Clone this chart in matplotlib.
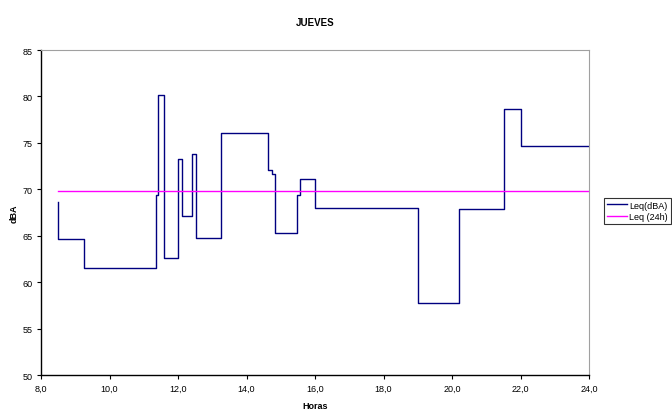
import matplotlib
matplotlib.use('Agg')
import matplotlib.pyplot as plt

plt.rcParams['font.family'] = ['Liberation Sans', 'DejaVu Sans']

# hourly Leq readings (step changes), hour of day -> dBA
horas = [8.51, 9.27, 11.35, 11.43, 11.60, 12.01, 12.12, 12.41, 12.54, 13.26,
         14.62, 14.75, 14.84, 15.48, 15.56, 16.01, 19.00, 20.20, 21.52, 22.00, 24.00]
leq = [64.6, 61.5, 69.4, 80.2, 62.6, 73.3, 67.1, 73.8, 64.8, 76.1,
       72.1, 71.6, 65.3, 69.4, 71.1, 68.0, 57.8, 67.85, 78.7, 74.7, 74.7]
inicio = 68.6      # first reading before the first step
leq_24h = 69.8
xticks = [8, 10, 12, 14, 16, 18, 20, 22, 24]
yticks = [50, 55, 60, 65, 70, 75, 80, 85]

fig = plt.figure(figsize=(6.72, 4.10), dpi=100)
ax = fig.add_axes([41/672, 1 - 376/410, (589 - 41)/672, (376 - 51)/410])

ax.plot([horas[0]] + horas, [inicio] + leq, drawstyle='steps-post',
        color='#000080', lw=1.0, label='Leq(dBA)')
ax.plot([horas[0], horas[-1]], [leq_24h, leq_24h], color='#FF00FF', lw=1.0,
        label='Leq (24h)')

ax.set_xlim(8, 24)
ax.set_ylim(50, 85)
ax.set_xticks(xticks)
ax.set_xticklabels([('%.1f' % t).replace('.', ',') for t in xticks])
ax.set_yticks(yticks)
ax.tick_params(labelsize=6.5, length=3, width=0.8, direction='out', pad=3)

for s in ['top', 'right']:
    ax.spines[s].set_color('#a0a0a0')
for s in ['left', 'bottom']:
    ax.spines[s].set_color('black')
    ax.spines[s].set_linewidth(1.0)

ax.set_title('JUEVES', fontsize=7, fontweight='bold', pad=18)
ax.set_xlabel('Horas', fontsize=6.5, fontweight='bold', labelpad=6)
ax.set_ylabel('dBA', fontsize=6.5, fontweight='bold', labelpad=3)

leg = fig.legend(loc='center left', bbox_to_anchor=(604/672, 0.483), fontsize=6.5,
                 frameon=True, fancybox=False, edgecolor='black', handlelength=2.2,
                 handletextpad=0.3, borderpad=0.3, labelspacing=0.3, borderaxespad=0)
leg.get_frame().set_linewidth(0.8)

fig.savefig('out.png', dpi=100)
